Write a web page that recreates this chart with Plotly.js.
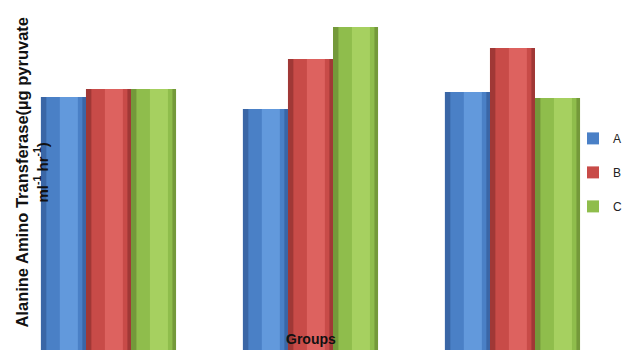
<!DOCTYPE html>
<html>
<head>
<meta charset="utf-8">
<script src="https://cdn.plot.ly/plotly-3.0.1.min.js"></script>
<style>html,body{margin:0;padding:0;background:#fff;}#chart{width:622px;height:350px;}</style>
</head>
<body>
<div id="chart"></div>
<script>
// Data (axis not shown in reference)
const groups = [0, 1, 2];
const groupLabels = ["Group 1", "Group 2", "Group 3"];
const seriesNames = ["A", "B", "C"];
const valuesA = [25.3, 24.1, 25.8];
const valuesB = [26.1, 29.1, 30.2];
const valuesC = [26.1, 32.3, 25.2];

const allValues = [valuesA, valuesB, valuesC];
const darkColors  = ["#3a66a6", "#a03836", "#74993a"];
const midColors   = ["#4a80c6", "#c84b48", "#8fbd4c"];
const lightColors = ["#6299dc", "#dd625f", "#a6d060"];

const barW = 0.2228;
const offsets = [-0.332, -0.109, 0.114];

const traces = [];
allValues.forEach((vals, i) => {
  traces.push({
    type: "bar", x: groups, y: vals, name: seriesNames[i],
    legendgroup: seriesNames[i], showlegend: true,
    width: barW, offset: offsets[i],
    marker: {color: midColors[i], line: {width: 0}},
    hoverinfo: "skip"
  });
});
allValues.forEach((vals, i) => {
  traces.push({
    type: "bar", x: groups, y: vals, showlegend: false, legendgroup: seriesNames[i],
    width: barW * 0.12, offset: offsets[i],
    marker: {color: darkColors[i], line: {width: 0}}, hoverinfo: "skip"
  });
  traces.push({
    type: "bar", x: groups, y: vals, showlegend: false, legendgroup: seriesNames[i],
    width: barW * 0.08, offset: offsets[i] + barW * 0.92,
    marker: {color: darkColors[i], line: {width: 0}}, hoverinfo: "skip"
  });
  traces.push({
    type: "bar", x: groups, y: vals, showlegend: false, legendgroup: seriesNames[i],
    width: barW * 0.4, offset: offsets[i] + barW * 0.42,
    marker: {color: lightColors[i], line: {width: 0}}, hoverinfo: "skip"
  });
});

const layout = {
  width: 622, height: 350,
  margin: {l: 7, r: 9, t: 0, b: 0, pad: 0, autoexpand: false},
  paper_bgcolor: "#ffffff", plot_bgcolor: "#ffffff",
  barmode: "overlay",
  xaxis: {range: [-0.5, 2.5], showticklabels: false, showgrid: false, zeroline: false, showline: false, ticks: ""},
  yaxis: {range: [0, 35], showticklabels: false, showgrid: false, zeroline: false, showline: false, ticks: ""},
  showlegend: true,
  legend: {
    x: (573 - 7) / 606, y: 0.646, xanchor: "left", yanchor: "top",
    bgcolor: "rgba(0,0,0,0)", borderwidth: 0,
    font: {family: "Liberation Sans, Arial, sans-serif", size: 12, color: "#222222"},
    traceorder: "grouped", tracegroupgap: 15, itemwidth: 30
  },
  annotations: [
    {
      xref: "paper", yref: "paper", x: (22 - 7) / 606, y: 0.507, xanchor: "center", yanchor: "middle",
      text: "<b>Alanine Amino Transferase(µg pyruvate</b>", textangle: -90, showarrow: false,
      font: {family: "Liberation Sans, Arial, sans-serif", size: 16.5, color: "#111111"}
    },
    {
      xref: "paper", yref: "paper", x: (41 - 7) / 606, y: 0.507, xanchor: "center", yanchor: "middle",
      text: "<b>ml<sup>-1</sup> hr<sup>-1</sup>)</b>", textangle: -90, showarrow: false,
      font: {family: "Liberation Sans, Arial, sans-serif", size: 15, color: "#111111"}
    },
    {
      xref: "paper", yref: "paper", x: (311 - 7) / 606, y: 1 - 339 / 350, xanchor: "center", yanchor: "middle",
      text: "<b>Groups</b>", showarrow: false,
      font: {family: "Liberation Sans, Arial, sans-serif", size: 14, color: "#111111"}
    }
  ]
};

Plotly.newPlot("chart", traces, layout, {displayModeBar: false, staticPlot: true});
</script>
</body>
</html>
